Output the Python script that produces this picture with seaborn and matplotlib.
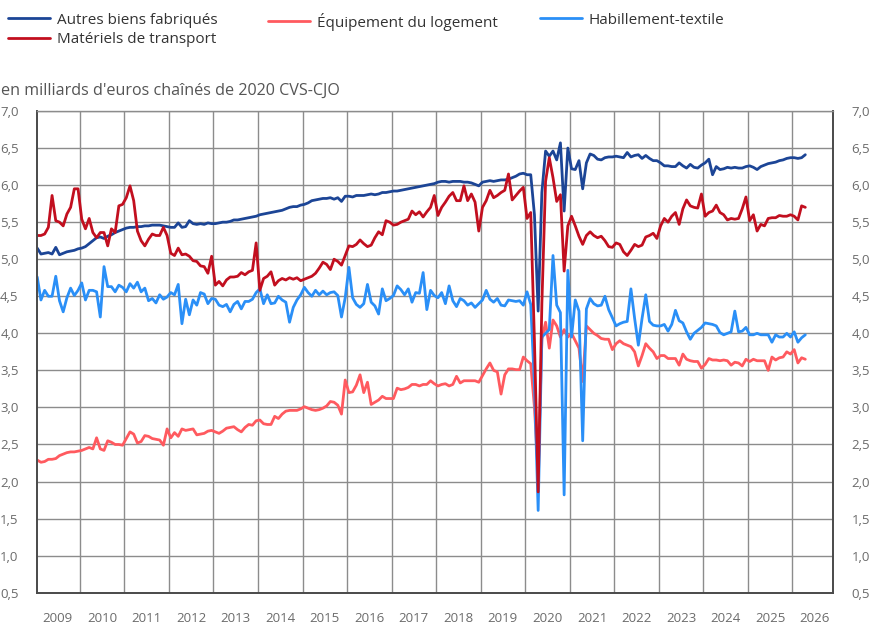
import pandas as pd
import matplotlib
matplotlib.use("Agg")
import matplotlib.pyplot as plt
import matplotlib.ticker as mticker
import seaborn as sns

# Monthly values, Jan 2009 -> Apr 2026 (one line per year)
autres = [
    5.15, 5.07, 5.08, 5.09, 5.07, 5.16, 5.06, 5.08, 5.10, 5.11, 5.12, 5.14,
    5.15, 5.17, 5.21, 5.25, 5.29, 5.30, 5.28, 5.31, 5.33, 5.36, 5.38, 5.40,
    5.42, 5.43, 5.43, 5.44, 5.44, 5.45, 5.45, 5.46, 5.46, 5.46, 5.45, 5.44,
    5.43, 5.43, 5.49, 5.43, 5.44, 5.52, 5.48, 5.47, 5.48, 5.47, 5.49, 5.48,
    5.48, 5.49, 5.50, 5.50, 5.51, 5.53, 5.53, 5.54, 5.55, 5.56, 5.57, 5.58,
    5.60, 5.61, 5.62, 5.63, 5.64, 5.65, 5.66, 5.68, 5.70, 5.71, 5.71, 5.73,
    5.74, 5.76, 5.79, 5.80, 5.81, 5.82, 5.82, 5.83, 5.81, 5.83, 5.78, 5.85,
    5.85, 5.84, 5.86, 5.86, 5.86, 5.87, 5.88, 5.87, 5.88, 5.90, 5.90, 5.91,
    5.92, 5.92, 5.93, 5.94, 5.95, 5.96, 5.97, 5.98, 5.99, 6.00, 6.01, 6.02,
    6.04, 6.05, 6.05, 6.04, 6.05, 6.05, 6.05, 6.04, 6.04, 6.03, 6.01, 5.99,
    6.04, 6.05, 6.06, 6.05, 6.06, 6.07, 6.07, 6.08, 6.10, 6.12, 6.15, 6.16,
    6.14, 6.14, 5.60, 4.30, 5.90, 6.46, 6.39, 6.46, 6.34, 6.57, 5.65, 6.50,
    6.22, 6.21, 6.33, 5.95, 6.30, 6.42, 6.40, 6.35, 6.34, 6.37, 6.38, 6.38,
    6.39, 6.38, 6.37, 6.44, 6.38, 6.40, 6.41, 6.36, 6.40, 6.36, 6.33, 6.33,
    6.30, 6.26, 6.26, 6.25, 6.25, 6.30, 6.26, 6.23, 6.28, 6.24, 6.23, 6.27,
    6.30, 6.35, 6.14, 6.25, 6.21, 6.22, 6.24, 6.23, 6.24, 6.23, 6.23, 6.25,
    6.26, 6.24, 6.21, 6.25, 6.27, 6.29, 6.30, 6.31, 6.33, 6.34, 6.36, 6.37,
    6.37, 6.36, 6.37, 6.41,
]

equipement = [
    2.29, 2.26, 2.27, 2.30, 2.30, 2.31, 2.35, 2.37, 2.39, 2.40, 2.40, 2.41,
    2.42, 2.44, 2.46, 2.44, 2.59, 2.44, 2.42, 2.55, 2.53, 2.50, 2.50, 2.49,
    2.58, 2.67, 2.64, 2.52, 2.54, 2.62, 2.61, 2.58, 2.57, 2.56, 2.49, 2.71,
    2.59, 2.66, 2.61, 2.71, 2.69, 2.70, 2.71, 2.63, 2.64, 2.65, 2.68, 2.69,
    2.67, 2.65, 2.68, 2.72, 2.73, 2.74, 2.70, 2.67, 2.73, 2.77, 2.76, 2.82,
    2.83, 2.78, 2.77, 2.77, 2.88, 2.85, 2.91, 2.95, 2.96, 2.96, 2.96, 2.98,
    3.01, 2.99, 2.97, 2.96, 2.97, 2.99, 3.02, 3.08, 3.07, 3.03, 2.91, 3.37,
    3.20, 3.21, 3.30, 3.44, 3.20, 3.34, 3.04, 3.07, 3.10, 3.15, 3.12, 3.12,
    3.12, 3.26, 3.24, 3.25, 3.27, 3.31, 3.31, 3.29, 3.31, 3.31, 3.36, 3.32,
    3.29, 3.31, 3.32, 3.29, 3.31, 3.42, 3.33, 3.36, 3.36, 3.36, 3.36, 3.34,
    3.43, 3.52, 3.60, 3.50, 3.48, 3.18, 3.44, 3.52, 3.52, 3.51, 3.51, 3.68,
    3.63, 3.59, 3.00, 2.10, 3.92, 4.15, 3.80, 4.18, 4.10, 3.95, 4.05, 3.95,
    4.00, 3.90, 3.80, 3.35, 4.10, 4.05, 4.00, 3.97, 3.93, 3.92, 3.92, 3.78,
    3.86, 3.90, 3.86, 3.84, 3.82, 3.75, 3.56, 3.70, 3.86, 3.80, 3.75, 3.66,
    3.70, 3.70, 3.66, 3.66, 3.66, 3.57, 3.72, 3.65, 3.63, 3.62, 3.62, 3.53,
    3.58, 3.66, 3.64, 3.64, 3.63, 3.64, 3.63, 3.57, 3.61, 3.60, 3.56, 3.65,
    3.62, 3.65, 3.63, 3.63, 3.63, 3.50, 3.68, 3.64, 3.67, 3.68, 3.75, 3.72,
    3.78, 3.60, 3.67, 3.65,
]

habillement = [
    4.76, 4.45, 4.58, 4.50, 4.50, 4.77, 4.44, 4.29, 4.48, 4.61, 4.51, 4.58,
    4.68, 4.45, 4.58, 4.58, 4.56, 4.22, 4.90, 4.63, 4.63, 4.56, 4.65, 4.62,
    4.56, 4.67, 4.61, 4.69, 4.56, 4.61, 4.44, 4.47, 4.41, 4.52, 4.46, 4.49,
    4.55, 4.52, 4.66, 4.13, 4.46, 4.25, 4.45, 4.38, 4.55, 4.53, 4.40, 4.47,
    4.46, 4.38, 4.36, 4.39, 4.29, 4.39, 4.43, 4.33, 4.43, 4.43, 4.46, 4.55,
    4.60, 4.40, 4.52, 4.40, 4.41, 4.50, 4.45, 4.42, 4.15, 4.35, 4.45, 4.52,
    4.62, 4.55, 4.50, 4.58, 4.52, 4.57, 4.52, 4.55, 4.56, 4.51, 4.22, 4.48,
    4.89, 4.48, 4.39, 4.35, 4.40, 4.66, 4.42, 4.37, 4.26, 4.60, 4.44, 4.47,
    4.51, 4.64, 4.59, 4.52, 4.60, 4.42, 4.55, 4.54, 4.82, 4.32, 4.58, 4.51,
    4.48, 4.55, 4.40, 4.64, 4.44, 4.36, 4.47, 4.44, 4.38, 4.41, 4.35, 4.40,
    4.45, 4.58, 4.46, 4.42, 4.47, 4.38, 4.37, 4.45, 4.44, 4.43, 4.44, 4.38,
    4.56, 4.39, 3.30, 1.61, 3.95, 4.00, 4.05, 5.05, 4.38, 4.28, 1.82, 4.85,
    3.95, 4.45, 4.30, 2.55, 4.33, 4.47, 4.40, 4.37, 4.38, 4.50, 4.32, 4.21,
    4.10, 4.13, 4.15, 4.16, 4.60, 4.20, 3.84, 4.20, 4.52, 4.16, 4.11, 4.10,
    4.10, 4.12, 4.03, 4.12, 4.31, 4.17, 4.14, 4.02, 3.92, 4.00, 4.04, 4.08,
    4.14, 4.13, 4.12, 4.10, 4.01, 3.98, 4.00, 4.02, 4.30, 4.02, 4.03, 4.08,
    3.98, 3.98, 4.00, 3.98, 3.98, 3.98, 3.88, 3.98, 3.95, 3.95, 4.00, 3.95,
    4.02, 3.88, 3.94, 3.98,
]

transport = [
    5.32, 5.32, 5.34, 5.43, 5.86, 5.52, 5.50, 5.45, 5.61, 5.70, 5.95, 5.95,
    5.54, 5.41, 5.55, 5.36, 5.29, 5.36, 5.36, 5.18, 5.41, 5.36, 5.72, 5.74,
    5.83, 5.99, 5.79, 5.38, 5.25, 5.18, 5.27, 5.34, 5.32, 5.32, 5.43, 5.32,
    5.08, 5.05, 5.15, 5.06, 5.07, 5.04, 4.98, 4.97, 4.91, 4.90, 4.81, 5.04,
    4.65, 4.70, 4.64, 4.72, 4.76, 4.76, 4.77, 4.82, 4.79, 4.83, 4.85, 5.22,
    4.58, 4.74, 4.77, 4.83, 4.65, 4.71, 4.74, 4.72, 4.75, 4.73, 4.75, 4.71,
    4.73, 4.75, 4.77, 4.81, 4.88, 4.96, 4.93, 4.86, 5.00, 4.97, 4.92, 5.05,
    5.18, 5.17, 5.20, 5.26, 5.21, 5.17, 5.19, 5.29, 5.37, 5.33, 5.52, 5.50,
    5.46, 5.47, 5.50, 5.52, 5.54, 5.65, 5.60, 5.64, 5.57, 5.64, 5.70, 5.86,
    5.59, 5.70, 5.77, 5.85, 5.90, 5.79, 5.79, 5.99, 5.79, 5.88, 5.77, 5.38,
    5.70, 5.79, 5.93, 5.83, 5.86, 5.90, 5.93, 6.15, 5.80, 5.86, 5.92, 5.97,
    5.55, 5.63, 3.90, 1.86, 4.40, 6.05, 6.37, 6.10, 5.78, 5.87, 4.84, 5.45,
    5.58, 5.45, 5.31, 5.20, 5.32, 5.37, 5.32, 5.29, 5.31, 5.25, 5.17, 5.16,
    5.22, 5.20, 5.10, 5.05, 5.12, 5.20, 5.17, 5.19, 5.30, 5.32, 5.35, 5.28,
    5.45, 5.55, 5.50, 5.58, 5.63, 5.47, 5.68, 5.80, 5.72, 5.70, 5.69, 5.88,
    5.58, 5.63, 5.65, 5.73, 5.63, 5.60, 5.53, 5.55, 5.54, 5.55, 5.68, 5.84,
    5.52, 5.60, 5.38, 5.47, 5.45, 5.55, 5.56, 5.56, 5.59, 5.58, 5.58, 5.60,
    5.58, 5.53, 5.72, 5.70,
]

series_names = ["Autres biens fabriqués", "Équipement du logement",
                "Habillement-textile", "Matériels de transport"]
series_colors = ["#1c4596", "#ff5a5f", "#2a8ff7", "#c20f1f"]
year_labels = [str(y) for y in range(2009, 2027)]

# Styling
sns.set_style("white")
plt.rcParams["font.family"] = ["Open Sans", "DejaVu Sans"]

months = pd.date_range("2009-01-01", periods=len(autres), freq="MS")
xpos = months.year + (months.month - 0.5) / 12

df = pd.DataFrame({
    "x": xpos,
    series_names[0]: autres,
    series_names[1]: equipement,
    series_names[2]: habillement,
    series_names[3]: transport,
})
long_df = df.melt(id_vars="x", var_name="serie", value_name="valeur")

fig = plt.figure(figsize=(8.75, 6.26), dpi=100)
ax = fig.add_axes([36.7 / 875, 1 - 592.7 / 626, (833.3 - 36.7) / 875, (592.7 - 111) / 626])

sns.lineplot(data=long_df, x="x", y="valeur", hue="serie", hue_order=series_names,
             palette=series_colors, linewidth=2.0, estimator=None, ax=ax)

handles, labels = ax.get_legend_handles_labels()
ax.get_legend().remove()

# Axes
ax.set_xlim(2009.03, 2026.92)
ax.set_ylim(0.5, 7.0)
ax.set_xlabel("")
ax.set_ylabel("")

ax.xaxis.set_major_locator(mticker.FixedLocator(range(2010, 2027)))
ax.xaxis.set_major_formatter(mticker.NullFormatter())
ax.xaxis.set_minor_locator(mticker.FixedLocator([y + 0.5 for y in range(2009, 2027)]))
ax.xaxis.set_minor_formatter(mticker.FixedFormatter(year_labels))
ax.tick_params(axis="x", which="both", length=0, pad=14, labelsize=9.5, labelcolor="#6b6b6b")

ax.yaxis.set_major_locator(mticker.MultipleLocator(0.5))
ax.yaxis.set_major_formatter(mticker.FuncFormatter(lambda v, p: f"{v:.1f}".replace(".", ",")))
ax.tick_params(axis="y", length=0, pad=13, labelsize=9.5, labelcolor="#6b6b6b",
               labelleft=True, labelright=True)

ax.grid(True, which="major", color="#8c8c8c", linewidth=1.0)
ax.set_axisbelow(True)
for side in ["left", "bottom", "right"]:
    ax.spines[side].set_color("#4a4a4a")
    ax.spines[side].set_linewidth(1.4)
ax.spines["top"].set_color("#8c8c8c")
ax.spines["top"].set_linewidth(1.0)

# Legend laid out in three fixed columns, like the reference
leg_kw = dict(loc="upper left", frameon=False, fontsize=11, handlelength=2.75,
              handletextpad=0.45, borderpad=0, borderaxespad=0, labelspacing=0.3,
              labelcolor="#333333")
fig.legend([handles[0], handles[3]], [labels[0], labels[3]],
           bbox_to_anchor=(8 / 875, 0.980), **leg_kw)
fig.legend([handles[1]], [labels[1]], bbox_to_anchor=(268 / 875, 0.980), **leg_kw)
fig.legend([handles[2]], [labels[2]], bbox_to_anchor=(540 / 875, 0.980), **leg_kw)

fig.text(0.001, 1 - 91 / 626, "en milliards d'euros chaînés de 2020 CVS-CJO",
         ha="left", va="center", fontsize=11.6, color="#555555")

fig.savefig("out.png", dpi=100)
